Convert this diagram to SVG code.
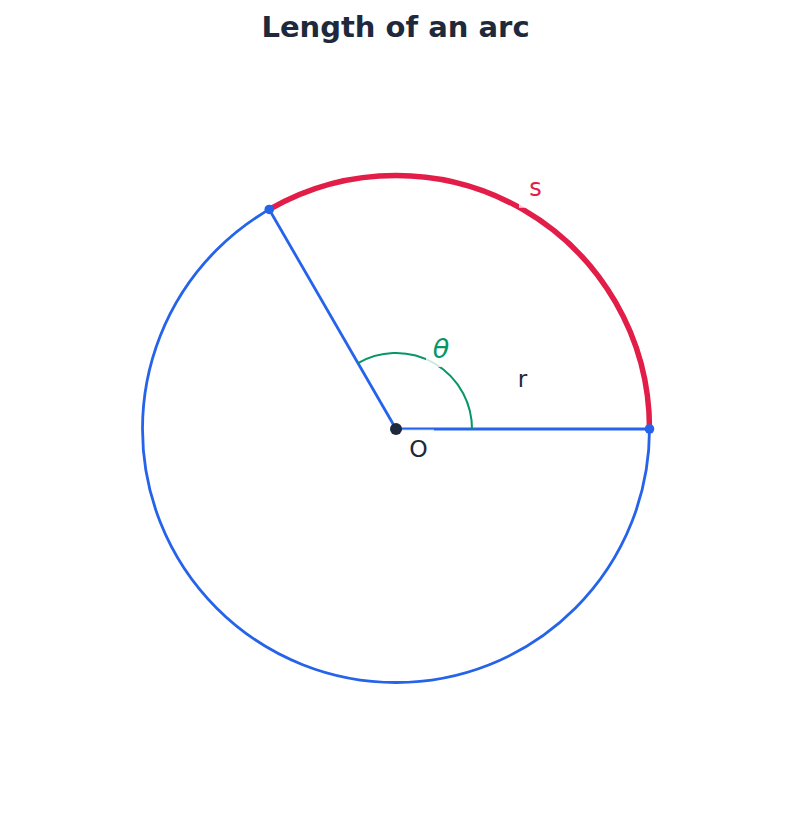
<svg xmlns="http://www.w3.org/2000/svg" width="791" height="825" viewBox="0 0 791 825">
<style>
.t{font-family:"DejaVu Sans","Liberation Sans",sans-serif}
.blue{fill:none;stroke:#2563eb;stroke-width:2.8}
.bg{fill:#ffffff;fill-opacity:0.8}
</style>
<rect width="791" height="825" fill="#ffffff"/>
<text class="t" x="395.5" y="37" text-anchor="middle" font-size="29" font-weight="bold" fill="#1e293b">Length of an arc</text>
<g id="circle"><circle class="blue" cx="396" cy="429" r="253.5"/></g>
<g id="arc-s"><path d="M269.25 209.46 A253.5 253.5 0 0 1 649.5 429" fill="none" stroke="#e11d48" stroke-width="5.5"/></g>
<g id="connectors">
<line class="blue" x1="396" y1="429" x2="269.25" y2="209.46"/>
<line class="blue" x1="396" y1="429" x2="649.5" y2="429"/>
</g>
<g id="angle"><path d="M358 363.2 A76 76 0 0 1 472 429" fill="none" stroke="#059669" stroke-width="2"/></g>
<g id="label-bgs">
<rect class="bg" x="519" y="170" width="32" height="37.8"/>
<rect class="bg" x="426" y="332" width="30" height="35"/>
<rect class="bg" x="402" y="429.6" width="32" height="36"/>
</g>
<g id="points">
<circle cx="269.25" cy="209.46" r="4.8" fill="#2563eb"/>
<circle cx="649.5" cy="429" r="4.8" fill="#2563eb"/>
<circle cx="396" cy="429" r="6" fill="#1e293b"/>
</g>
<g id="labels">
<text class="t" x="535.5" y="196" text-anchor="middle" font-size="24" fill="#e11d48">s</text>
<text class="t" x="441" y="358" text-anchor="middle" font-size="27" font-style="italic" fill="#059669">θ</text>
<text class="t" x="522.5" y="387" text-anchor="middle" font-size="23" fill="#1e293b">r</text>
<text class="t" x="418.5" y="457" text-anchor="middle" font-size="23.5" fill="#1e293b">O</text>
</g>
</svg>
